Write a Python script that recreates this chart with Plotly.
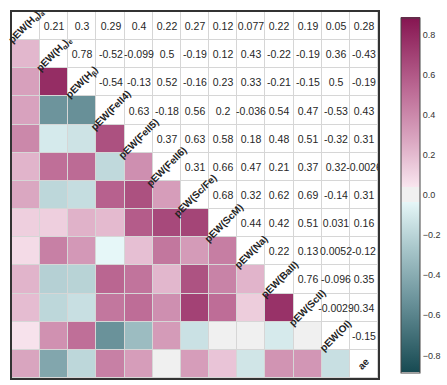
import plotly.graph_objects as go

labels = [
    "pEW(H<sub>α</sub>)<sub>a</sub>", "pEW(H<sub>α</sub>)<sub>e</sub>", "pEW(H<sub>β</sub>)",
    "pEW(FeII4)", "pEW(FeII5)", "pEW(FeII6)", "pEW(Sc/Fe)", "pEW(ScM)",
    "pEW(Na)", "pEW(BaII)", "pEW(ScII)", "pEW(OI)", "ae",
]

# upper triangle of the correlation matrix, row by row (j > i)
upper = [
    [0.21, 0.3, 0.29, 0.4, 0.22, 0.27, 0.12, 0.077, 0.22, 0.19, 0.05, 0.28],
    [0.78, -0.52, -0.099, 0.5, -0.19, 0.12, 0.43, -0.22, -0.19, 0.36, -0.43],
    [-0.54, -0.13, 0.52, -0.16, 0.23, 0.33, -0.21, -0.15, 0.5, -0.19],
    [0.63, -0.18, 0.56, 0.2, -0.036, 0.54, 0.47, -0.53, 0.43],
    [0.37, 0.63, 0.58, 0.18, 0.48, 0.51, -0.32, 0.31],
    [0.31, 0.66, 0.47, 0.21, 0.37, 0.32, -0.0026],
    [0.68, 0.32, 0.62, 0.69, -0.14, 0.31],
    [0.44, 0.42, 0.51, 0.031, 0.16],
    [0.22, 0.13, 0.0052, -0.12],
    [0.76, -0.096, 0.35],
    [-0.0029, 0.34],
    [-0.15],
    [],
]

n = len(labels)
corr = [[1.0] * n for _ in range(n)]
for i, row in enumerate(upper):
    for k, v in enumerate(row):
        j = i + 1 + k
        corr[i][j] = v
        corr[j][i] = v

# lower triangle coloured, upper triangle white with numbers
z_low = [[corr[i][j] if j < i else None for j in range(n)] for i in range(n)]
z_up = [[1 if j >= i else None for j in range(n)] for i in range(n)]
txt_up = [["{:.2g}".format(corr[i][j]) if j > i else "" for j in range(n)] for i in range(n)]

cscale = [
    [0.0, "#174a52"],
    [0.2, "#6a929a"],
    [0.35, "#a9c7cb"],
    [0.48, "#e6f7f8"],
    [0.48, "#f0f0f0"],
    [0.52, "#f0f0f0"],
    [0.52, "#f9e6ef"],
    [0.65, "#dba8c2"],
    [0.8, "#bb6893"],
    [1.0, "#851450"],
]

fig = go.Figure()

fig.add_trace(
    go.Heatmap(
        z=z_low,
        colorscale=cscale,
        zmin=-0.885,
        zmax=0.885,
        xgap=1,
        ygap=1,
        hoverongaps=False,
        colorbar=dict(
            x=1.063,
            xanchor="left",
            xpad=0,
            ypad=0,
            y=0.5,
            yanchor="middle",
            len=0.97,
            thickness=19,
            outlinewidth=1,
            outlinecolor="#444",
            tickvals=[-0.8, -0.6, -0.4, -0.2, 0.0, 0.2, 0.4, 0.6, 0.8],
            tickformat=".1f",
            ticks="",
            tickfont=dict(size=9, color="#333"),
        ),
    )
)

fig.add_trace(
    go.Heatmap(
        z=z_up,
        text=txt_up,
        texttemplate="%{text}",
        textfont=dict(size=10.5, color="#262626"),
        colorscale=[[0, "white"], [1, "white"]],
        showscale=False,
        xgap=1,
        ygap=1,
        hoverongaps=False,
    )
)

for i, lab in enumerate(labels):
    fig.add_annotation(
        x=i, y=i, text="<b>" + lab + "</b>", showarrow=False,
        textangle=-45, font=dict(size=10, color="#222"),
    )

fig.update_xaxes(
    range=[-0.5, n - 0.5], showticklabels=False, showgrid=False, zeroline=False,
    showline=True, mirror=True, linecolor="#333", linewidth=1.5, ticks="",
)
fig.update_yaxes(
    range=[n - 0.5, -0.5], showticklabels=False, showgrid=False, zeroline=False,
    showline=True, mirror=True, linecolor="#333", linewidth=1.5, ticks="",
)

fig.update_layout(
    width=447,
    height=385,
    margin=dict(l=12, r=69, t=12, b=7, autoexpand=False),
    plot_bgcolor="#d6d6d6",
    paper_bgcolor="white",
    font=dict(family="Liberation Sans, Arial, sans-serif", color="#333"),
)

# page has a default 8px body margin; drop it so the figure sits at the corner
fig.write_html(
    "out.html",
    config={"displayModeBar": False},
    post_script="document.body.style.margin='0';",
)
